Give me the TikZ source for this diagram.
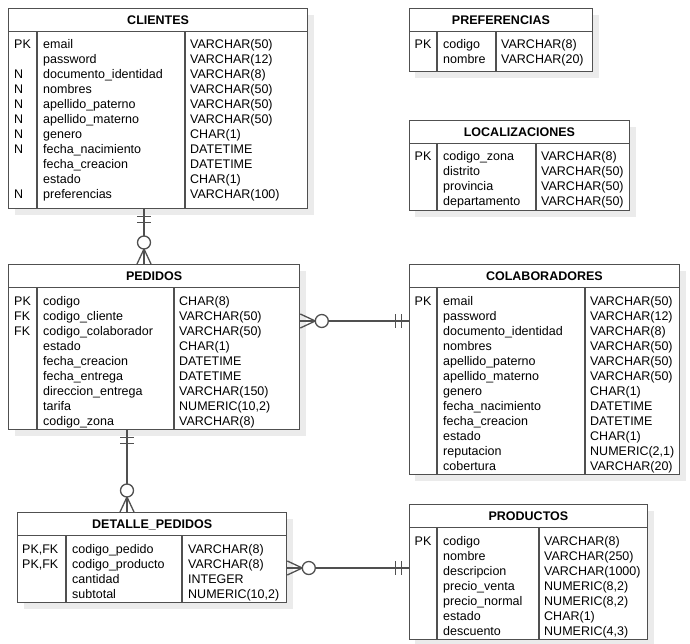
\documentclass[tikz,border=0pt]{standalone}
\usepackage{fontspec}
\setsansfont{Liberation Sans}
\usetikzlibrary{calc,shadows}
\definecolor{framegray}{RGB}{80,80,80}
\definecolor{shadowgray}{RGB}{235,235,235}
\tikzset{
    %Table frame with its light shadow
    tablebox/.style={draw=framegray, line width=1.3pt, fill=white, anchor=north west,
        general shadow={fill=shadowgray, shadow xshift=6pt, shadow yshift=-6pt}},
    tabletitle/.style={draw=framegray, line width=1.3pt, anchor=north, minimum height=23pt, inner sep=0pt,
        text height=9pt, text depth=0pt, font=\sffamily\bfseries\fontsize{12.5}{15}\selectfont},
    coltext/.style={anchor=north west, inner sep=0pt, align=left, font=\sffamily\fontsize{12.5}{15}\selectfont},
    divider/.style={draw=framegray, line width=1.3pt},
    relline/.style={draw=framegray, line width=1.3pt}
}

\begin{document}
\begin{tikzpicture}[x=1pt, y=-1pt, font=\sffamily]

	\useasboundingbox (0,0) rectangle (690,644);

	% CLIENTES
	\node (clientes) at (8,8) [tablebox, minimum width=299pt, minimum height=200pt] {};
	\node (clientes-title) at (clientes.north) [tabletitle, minimum width=299pt] {CLIENTES};
	\draw[divider] ([xshift=29pt]clientes-title.south west) -- ([xshift=29pt]clientes.south west);
	\draw[divider] ([xshift=177pt]clientes-title.south west) -- ([xshift=177pt]clientes.south west);
	\node (clientes-keys) at ([xshift=6pt,yshift=-6pt]clientes-title.south west) [coltext] {\strut PK\\{}\\N\\N\\N\\N\\N\\N\\{}\\{}\\N};
	\node (clientes-fields) at ([xshift=35pt,yshift=-6pt]clientes-title.south west) [coltext] {\strut email\\password\\documento\_identidad\\nombres\\apellido\_paterno\\apellido\_materno\\genero\\fecha\_nacimiento\\fecha\_creacion\\estado\\preferencias};
	\node (clientes-types) at ([xshift=182pt,yshift=-6pt]clientes-title.south west) [coltext] {\strut VARCHAR(50)\\VARCHAR(12)\\VARCHAR(8)\\VARCHAR(50)\\VARCHAR(50)\\VARCHAR(50)\\CHAR(1)\\DATETIME\\DATETIME\\CHAR(1)\\VARCHAR(100)};

	% PREFERENCIAS
	\node (preferencias) at (408.5,8) [tablebox, minimum width=183.5pt, minimum height=63pt] {};
	\node (preferencias-title) at (preferencias.north) [tabletitle, minimum width=183.5pt] {PREFERENCIAS};
	\draw[divider] ([xshift=28.5pt]preferencias-title.south west) -- ([xshift=28.5pt]preferencias.south west);
	\draw[divider] ([xshift=87.5pt]preferencias-title.south west) -- ([xshift=87.5pt]preferencias.south west);
	\node (preferencias-keys) at ([xshift=6pt,yshift=-6pt]preferencias-title.south west) [coltext] {\strut PK};
	\node (preferencias-fields) at ([xshift=34.5pt,yshift=-6pt]preferencias-title.south west) [coltext] {\strut codigo\\nombre};
	\node (preferencias-types) at ([xshift=92.5pt,yshift=-6pt]preferencias-title.south west) [coltext] {\strut VARCHAR(8)\\VARCHAR(20)};

	% LOCALIZACIONES
	\node (localizaciones) at (408.5,120) [tablebox, minimum width=220.5pt, minimum height=90pt] {};
	\node (localizaciones-title) at (localizaciones.north) [tabletitle, minimum width=220.5pt] {LOCALIZACIONES};
	\draw[divider] ([xshift=28.5pt]localizaciones-title.south west) -- ([xshift=28.5pt]localizaciones.south west);
	\draw[divider] ([xshift=127.5pt]localizaciones-title.south west) -- ([xshift=127.5pt]localizaciones.south west);
	\node (localizaciones-keys) at ([xshift=6pt,yshift=-6pt]localizaciones-title.south west) [coltext] {\strut PK};
	\node (localizaciones-fields) at ([xshift=34.5pt,yshift=-6pt]localizaciones-title.south west) [coltext] {\strut codigo\_zona\\distrito\\provincia\\departamento};
	\node (localizaciones-types) at ([xshift=132.5pt,yshift=-6pt]localizaciones-title.south west) [coltext] {\strut VARCHAR(8)\\VARCHAR(50)\\VARCHAR(50)\\VARCHAR(50)};

	% PEDIDOS
	\node (pedidos) at (8,264) [tablebox, minimum width=291pt, minimum height=165pt] {};
	\node (pedidos-title) at (pedidos.north) [tabletitle, minimum width=291pt] {PEDIDOS};
	\draw[divider] ([xshift=29pt]pedidos-title.south west) -- ([xshift=29pt]pedidos.south west);
	\draw[divider] ([xshift=166pt]pedidos-title.south west) -- ([xshift=166pt]pedidos.south west);
	\node (pedidos-keys) at ([xshift=6pt,yshift=-6pt]pedidos-title.south west) [coltext] {\strut PK\\FK\\FK};
	\node (pedidos-fields) at ([xshift=35pt,yshift=-6pt]pedidos-title.south west) [coltext] {\strut codigo\\codigo\_cliente\\codigo\_colaborador\\estado\\fecha\_creacion\\fecha\_entrega\\direccion\_entrega\\tarifa\\codigo\_zona};
	\node (pedidos-types) at ([xshift=171pt,yshift=-6pt]pedidos-title.south west) [coltext] {\strut CHAR(8)\\VARCHAR(50)\\VARCHAR(50)\\CHAR(1)\\DATETIME\\DATETIME\\VARCHAR(150)\\NUMERIC(10,2)\\VARCHAR(8)};

	% COLABORADORES
	\node (colaboradores) at (408.5,264) [tablebox, minimum width=270.5pt, minimum height=210pt] {};
	\node (colaboradores-title) at (colaboradores.north) [tabletitle, minimum width=270.5pt] {COLABORADORES};
	\draw[divider] ([xshift=28.5pt]colaboradores-title.south west) -- ([xshift=28.5pt]colaboradores.south west);
	\draw[divider] ([xshift=176.5pt]colaboradores-title.south west) -- ([xshift=176.5pt]colaboradores.south west);
	\node (colaboradores-keys) at ([xshift=6pt,yshift=-6pt]colaboradores-title.south west) [coltext] {\strut PK};
	\node (colaboradores-fields) at ([xshift=34.5pt,yshift=-6pt]colaboradores-title.south west) [coltext] {\strut email\\password\\documento\_identidad\\nombres\\apellido\_paterno\\apellido\_materno\\genero\\fecha\_nacimiento\\fecha\_creacion\\estado\\reputacion\\cobertura};
	\node (colaboradores-types) at ([xshift=181.5pt,yshift=-6pt]colaboradores-title.south west) [coltext] {\strut VARCHAR(50)\\VARCHAR(12)\\VARCHAR(8)\\VARCHAR(50)\\VARCHAR(50)\\VARCHAR(50)\\CHAR(1)\\DATETIME\\DATETIME\\CHAR(1)\\NUMERIC(2,1)\\VARCHAR(20)};

	% DETALLE_PEDIDOS
	\node (detalle) at (17,512) [tablebox, minimum width=269pt, minimum height=90pt] {};
	\node (detalle-title) at (detalle.north) [tabletitle, minimum width=269pt] {DETALLE\_PEDIDOS};
	\draw[divider] ([xshift=49pt]detalle-title.south west) -- ([xshift=49pt]detalle.south west);
	\draw[divider] ([xshift=165pt]detalle-title.south west) -- ([xshift=165pt]detalle.south west);
	\node (detalle-keys) at ([xshift=5pt,yshift=-6pt]detalle-title.south west) [coltext] {\strut PK,FK\\PK,FK};
	\node (detalle-fields) at ([xshift=55pt,yshift=-6pt]detalle-title.south west) [coltext] {\strut codigo\_pedido\\codigo\_producto\\cantidad\\subtotal};
	\node (detalle-types) at ([xshift=171pt,yshift=-6pt]detalle-title.south west) [coltext] {\strut VARCHAR(8)\\VARCHAR(8)\\INTEGER\\NUMERIC(10,2)};

	% PRODUCTOS
	\node (productos) at (408.5,504) [tablebox, minimum width=238.5pt, minimum height=135pt] {};
	\node (productos-title) at (productos.north) [tabletitle, minimum width=238.5pt] {PRODUCTOS};
	\draw[divider] ([xshift=28.5pt]productos-title.south west) -- ([xshift=28.5pt]productos.south west);
	\draw[divider] ([xshift=130.5pt]productos-title.south west) -- ([xshift=130.5pt]productos.south west);
	\node (productos-keys) at ([xshift=6pt,yshift=-6pt]productos-title.south west) [coltext] {\strut PK};
	\node (productos-fields) at ([xshift=34.5pt,yshift=-6pt]productos-title.south west) [coltext] {\strut codigo\\nombre\\descripcion\\precio\_venta\\precio\_normal\\estado\\descuento};
	\node (productos-types) at ([xshift=135.5pt,yshift=-6pt]productos-title.south west) [coltext] {\strut VARCHAR(8)\\VARCHAR(250)\\VARCHAR(1000)\\NUMERIC(8,2)\\NUMERIC(8,2)\\CHAR(1)\\NUMERIC(4,3)};

	% clientes -- pedidos
	\coordinate (cp-one) at ([xshift=136pt]clientes.south west);
	\coordinate (cp-many) at ([xshift=136pt]pedidos.north west);
	\draw[relline] (cp-one) -- (cp-many);
	\draw[relline] ([yshift=-7pt]cp-one) +(-7,0) -- +(7,0);
	\draw[relline] ([yshift=-13pt]cp-one) +(-7,0) -- +(7,0);
	\draw[relline] ([xshift=-7pt]cp-many) -- ([yshift=15pt]cp-many) -- ([xshift=7pt]cp-many);
	\draw[relline, fill=white] ([yshift=21.5pt]cp-many) circle (6.5pt);

	% pedidos -- colaboradores
	\coordinate (pc-many) at ([yshift=-57pt]pedidos.north east);
	\coordinate (pc-one) at ([yshift=-57pt]colaboradores.north west);
	\draw[relline] (pc-many) -- (pc-one);
	\draw[relline] ([yshift=7pt]pc-many) -- ([xshift=15pt]pc-many) -- ([yshift=-7pt]pc-many);
	\draw[relline, fill=white] ([xshift=21.5pt]pc-many) circle (6.5pt);
	\draw[relline] ([xshift=-7pt]pc-one) +(0,-7) -- +(0,7);
	\draw[relline] ([xshift=-13pt]pc-one) +(0,-7) -- +(0,7);

	% pedidos -- detalle_pedidos
	\coordinate (pd-one) at ([xshift=119pt]pedidos.south west);
	\coordinate (pd-many) at ([xshift=110pt]detalle.north west);
	\draw[relline] (pd-one) -- (pd-many);
	\draw[relline] ([yshift=-7pt]pd-one) +(-7,0) -- +(7,0);
	\draw[relline] ([yshift=-13pt]pd-one) +(-7,0) -- +(7,0);
	\draw[relline] ([xshift=-7pt]pd-many) -- ([yshift=15pt]pd-many) -- ([xshift=7pt]pd-many);
	\draw[relline, fill=white] ([yshift=21.5pt]pd-many) circle (6.5pt);

	% detalle_pedidos -- productos
	\coordinate (dp-many) at ([yshift=-56pt]detalle.north east);
	\coordinate (dp-one) at ([yshift=-64pt]productos.north west);
	\draw[relline] (dp-many) -- (dp-one);
	\draw[relline] ([yshift=7pt]dp-many) -- ([xshift=15pt]dp-many) -- ([yshift=-7pt]dp-many);
	\draw[relline, fill=white] ([xshift=21.5pt]dp-many) circle (6.5pt);
	\draw[relline] ([xshift=-7pt]dp-one) +(0,-7) -- +(0,7);
	\draw[relline] ([xshift=-13pt]dp-one) +(0,-7) -- +(0,7);

\end{tikzpicture}
\end{document}
